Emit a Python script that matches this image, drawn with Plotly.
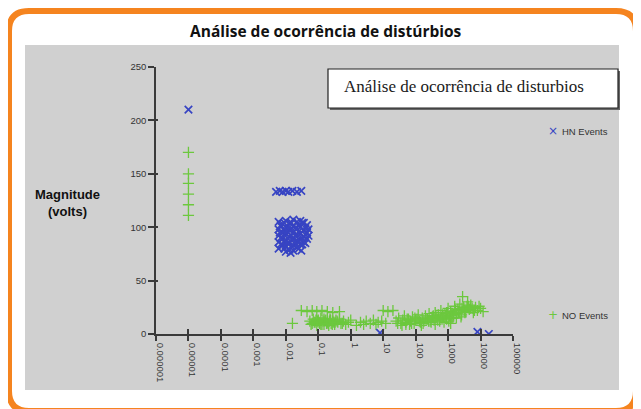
import plotly.graph_objects as go

# ---------------- data ----------------
hn_x = [0.00001,
        0.005, 0.0065, 0.008, 0.01, 0.012, 0.016, 0.022, 0.03,
        0.006, 0.006, 0.006, 0.006, 0.006,
        0.008, 0.008, 0.008, 0.008,
        0.01, 0.01, 0.01, 0.01, 0.01, 0.01,
        0.013, 0.013, 0.013, 0.013, 0.013,
        0.017, 0.017, 0.017, 0.017, 0.017, 0.017,
        0.022, 0.022, 0.022, 0.022, 0.022,
        0.028, 0.028, 0.028, 0.028, 0.028,
        0.036, 0.036, 0.036, 0.036,
        0.045, 0.045, 0.045,
        0.009, 0.015, 0.02, 0.025, 0.032, 0.007, 0.012, 0.04,
        0.007, 0.007, 0.007, 0.009, 0.009, 0.009, 0.011, 0.011, 0.011,
        0.015, 0.015, 0.015, 0.019, 0.019, 0.019, 0.025, 0.025, 0.025,
        0.032, 0.032, 0.04, 0.04, 0.05, 0.05, 0.0065, 0.014, 0.03,
        8, 8000, 18000]
hn_y = [210,
        133, 134, 133, 134, 133, 134, 133, 134,
        105, 98, 92, 86, 80,
        103, 95, 89, 83,
        106, 100, 94, 88, 82, 77,
        104, 97, 91, 85, 79,
        107, 101, 95, 89, 83, 78,
        105, 99, 93, 87, 81,
        106, 100, 94, 88, 84,
        104, 97, 91, 86,
        102, 95, 89,
        97, 92, 84, 96, 90, 101, 99, 93,
        102, 90, 84, 104, 86, 80, 96, 90, 85,
        104, 98, 82, 99, 92, 86, 102, 86, 80,
        104, 84, 99, 85, 98, 92, 95, 76, 78,
        1, 2, 0]

no_x = [0.00001, 0.00001, 0.00001, 0.00001, 0.00001, 0.00001,
        0.016,
        0.03, 0.045, 0.065, 0.09, 0.13, 0.19, 0.28, 0.45,
        0.055, 0.06, 0.07, 0.08, 0.09, 0.1, 0.11, 0.12, 0.14, 0.15, 0.17, 0.19,
        0.21, 0.23, 0.25, 0.28, 0.32, 0.35, 0.4, 0.45, 0.5, 0.6, 0.7, 0.85, 1.0,
        0.065, 0.085, 0.105, 0.13, 0.16, 0.2, 0.24, 0.3,
        0.075, 0.095, 0.12, 0.15, 0.18, 0.22, 0.27, 0.33, 0.38, 0.55,
        1.5, 2, 2.5, 3, 4, 5, 6, 7, 9, 12,
        10, 14, 20,
        25, 30, 35, 40, 45, 50, 60, 70, 80, 90, 100, 120, 140, 160, 180, 200,
        230, 260, 300, 330, 370, 400, 450, 500, 550, 600, 700, 800, 900, 1000,
        1100, 1200, 1400, 1600, 1800, 2000, 2300, 2600, 2800, 3000, 3500, 4000,
        4500, 5000, 6000, 7000, 8000, 10000, 12000,
        150, 400, 1200, 50, 250, 650, 1500, 2200, 3200, 5500, 750, 110, 65, 2500,
        900, 1800, 4200, 350, 28, 38,
        55, 75, 95, 130, 170, 210, 280, 320, 420, 480, 580, 680, 850, 950,
        1300, 1700, 2100, 2700, 3300, 3800, 4800, 6500, 9000, 1050, 1250, 1450]
no_y = [170, 150, 141, 131, 121, 111,
        10,
        22, 21, 22, 21, 22, 21, 20, 21,
        12, 9, 14, 11, 8, 13, 10, 15, 12, 9, 13, 11,
        8, 14, 10, 12, 9, 13, 11, 14, 10, 12, 9, 11, 13,
        10, 13, 11, 9, 12, 10, 13, 11,
        11, 12, 9, 14, 10, 12, 9, 11, 12, 10,
        8, 11, 9, 12, 10, 13, 9, 11, 12, 10,
        22, 21, 22,
        12, 15, 10, 13, 17, 11, 14, 12, 16, 10, 13, 18, 11, 15, 12, 17,
        14, 19, 11, 16, 13, 20, 15, 18, 12, 22, 16, 19, 14, 24,
        17, 21, 15, 26, 19, 23, 28, 18, 35, 25, 21, 30,
        23, 27, 20, 25, 22, 24, 21,
        8, 9, 10, 9, 12, 14, 18, 20, 22, 24, 11, 14, 9, 16,
        20, 15, 26, 17, 10, 8,
        14, 10, 15, 12, 10, 14, 12, 15, 17, 13, 15, 18, 17, 20,
        19, 22, 20, 24, 20, 26, 24, 22, 26, 12, 15, 18]

tick_vals = [1e-6, 1e-5, 1e-4, 1e-3, 1e-2, 1e-1, 1, 10, 100, 1000, 10000, 100000]
tick_text = ["0.000001", "0.00001", "0.0001", "0.001", "0.01", "0.1", "1",
             "10", "100", "1000", "10000", "100000"]
y_ticks = [0, 50, 100, 150, 200, 250]

# ---------------- geometry helpers ----------------
# the page body adds an 8px margin, so figure coordinates are page coordinates - 8
OFF = 8
W, H = 641, 409
X0, X1, Y0, Y1 = 156 - OFF, 513 - OFF, 67 - OFF, 334 - OFF   # plot area in figure px
L, R, T, B = X0, W - X1, Y0, H - Y1
PW, PH = X1 - X0, Y1 - Y0


def px(x):
    return (x - OFF - X0) / PW


def py(y):
    return (Y1 - (y - OFF)) / PH


def rounded_rect(x0, y0, x1, y1, r):
    X, Y = px, py
    return (f"M {X(x0 + r)} {Y(y0)} L {X(x1 - r)} {Y(y0)} Q {X(x1)} {Y(y0)} {X(x1)} {Y(y0 + r)} "
            f"L {X(x1)} {Y(y1 - r)} Q {X(x1)} {Y(y1)} {X(x1 - r)} {Y(y1)} "
            f"L {X(x0 + r)} {Y(y1)} Q {X(x0)} {Y(y1)} {X(x0)} {Y(y1 - r)} "
            f"L {X(x0)} {Y(y0 + r)} Q {X(x0)} {Y(y0)} {X(x0 + r)} {Y(y0)} Z")


BLUE = "rgb(55,68,195)"
GREEN = "rgb(108,200,62)"
AXIS = "#3a3a3a"

fig = go.Figure()
fig.add_trace(go.Scatter(x=no_x, y=no_y, mode="markers", name="NO Events",
                         marker=dict(symbol="cross-thin-open", size=8,
                                     line=dict(color=GREEN, width=1.3), color=GREEN)))
fig.add_trace(go.Scatter(x=hn_x, y=hn_y, mode="markers", name="HN Events",
                         marker=dict(symbol="x-thin-open", size=7.5,
                                     line=dict(color=BLUE, width=1.7), color=BLUE)))
fig.add_trace(go.Scatter(x=[], y=[], xaxis="x2", yaxis="y2", showlegend=False))

tickfont = dict(family="Liberation Sans", size=9.5, color="#333")

fig.update_layout(
    width=W, height=H,
    margin=dict(l=L, r=R, t=T, b=B),
    paper_bgcolor="white",
    plot_bgcolor="rgba(0,0,0,0)",
    showlegend=False,
    xaxis=dict(type="log", range=[-6, 5], tickvals=tick_vals, ticktext=tick_text,
               tickangle=90, ticks="outside", ticklen=5, tickwidth=1.5, tickcolor=AXIS,
               ticklabelshift=4,
               showline=True, linecolor=AXIS, linewidth=1.5, showgrid=False,
               zeroline=False, tickfont=tickfont),
    yaxis=dict(range=[0, 250], tickvals=y_ticks, ticks="outside", ticklen=6,
               tickwidth=1.5, tickcolor=AXIS, showline=True, linecolor=AXIS,
               linewidth=1.5, showgrid=False, zeroline=False, tickfont=tickfont),
    xaxis2=dict(type="log", range=[-6, 5], tickvals=tick_vals, overlaying="x",
                anchor="y2", ticks="inside", ticklen=5, tickwidth=1.5, tickcolor=AXIS,
                showticklabels=False, showline=False, showgrid=False, zeroline=False),
    yaxis2=dict(range=[0, 250], tickvals=y_ticks, overlaying="y", anchor="x2",
                ticks="inside", ticklen=2, tickwidth=1.5, tickcolor=AXIS,
                showticklabels=False, showline=False, showgrid=False, zeroline=False),
)

shapes = [
    dict(type="rect", xref="paper", yref="paper", layer="below",
         x0=px(25), x1=px(619), y0=py(390), y1=py(45),
         fillcolor="rgb(208,208,208)", line=dict(width=0)),
    dict(type="path", xref="paper", yref="paper", layer="below",
         path=rounded_rect(9, 11, 636, 411, 20),
         line=dict(color="#F5841F", width=6), fillcolor="rgba(0,0,0,0)"),
    dict(type="rect", xref="paper", yref="paper", layer="below",
         x0=px(330), x1=px(620), y0=py(110), y1=py(71),
         fillcolor="#666", line=dict(width=0)),
    dict(type="rect", xref="paper", yref="paper", layer="below",
         x0=px(328), x1=px(618), y0=py(108), y1=py(69),
         fillcolor="white", line=dict(color="#222", width=1.2)),
]
fig.update_layout(shapes=shapes)

ann = [
    dict(text="<b>Análise de ocorrência de distúrbios</b>", x=px(326), y=py(31),
         font=dict(family="Open Sans", size=15.5, color="#111")),
    dict(text="Análise de ocorrência de disturbios", x=px(342), y=py(87), xanchor="left",
         font=dict(family="Liberation Serif", size=17, color="#1a1a1a")),
    dict(text="<b>Magnitude<br>(volts)</b>", x=px(67), y=py(203),
         font=dict(family="Liberation Sans", size=13, color="#111")),
    dict(text="×", x=px(553), y=py(131), font=dict(family="DejaVu Sans", size=12, color=BLUE)),
    dict(text="HN Events", x=px(560), y=py(131), xanchor="left",
         font=dict(family="Liberation Sans", size=9.5, color="#333")),
    dict(text="+", x=px(553), y=py(315), font=dict(family="DejaVu Sans", size=12, color=GREEN)),
    dict(text="NO Events", x=px(560), y=py(315), xanchor="left",
         font=dict(family="Liberation Sans", size=9.5, color="#333")),
]
for a in ann:
    a.setdefault("xanchor", "center")
    a.update(xref="paper", yref="paper", showarrow=False, yanchor="middle")
fig.update_layout(annotations=ann)

fig.write_html("out.html")
